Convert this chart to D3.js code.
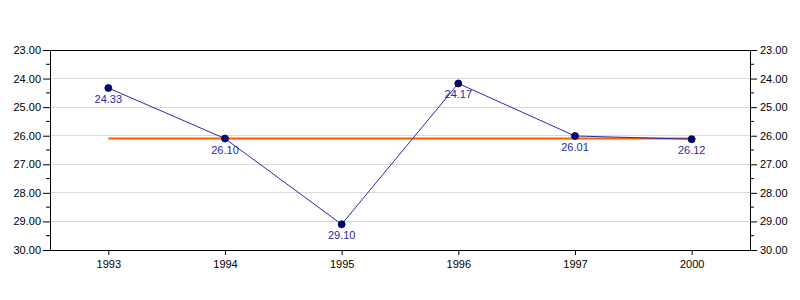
<!DOCTYPE html>
<html><head><meta charset="utf-8">
<script src="https://cdn.jsdelivr.net/npm/d3@7"></script>
<style>body{margin:0;background:#fff}svg{display:block}text{font-family:"Liberation Sans",Arial,sans-serif}</style>
</head><body>
<svg id="c" width="800" height="300"></svg>
<script>
const categories = ["1993","1994","1995","1996","1997","2000"];
const values = [24.33, 26.10, 29.10, 24.17, 26.01, 26.12];
const referenceValue = [26.10];
const yTicks = [23,24,25,26,27,28,29,30];
const yMinorTicks = [23.5,24.5,25.5,26.5,27.5,28.5,29.5];

const svg = d3.select("#c");
const L = 50, R = 750, T = 50, B = 250;
const x = d3.scalePoint().domain(categories).range([L, R]).padding(0.5);
const y = d3.scaleLinear().domain([23, 30]).range([T, B]);

// gridlines
svg.append("g").selectAll("line").data(yTicks.slice(1, -1)).join("line")
  .attr("x1", L).attr("x2", R).attr("y1", d => y(d)).attr("y2", d => y(d))
  .attr("stroke", "#d9d9d9").attr("stroke-width", 1).attr("shape-rendering", "crispEdges");

// frame top
svg.append("line").attr("x1", L).attr("x2", R).attr("y1", T).attr("y2", T)
  .attr("stroke", "#000").attr("shape-rendering", "crispEdges");

const fmt = d3.format(".2f");
// left axis
const gl = svg.append("g").attr("transform", `translate(${L},0)`)
  .call(d3.axisLeft(y).tickValues(yTicks).tickFormat(fmt).tickSize(7).tickPadding(2));
gl.append("g").selectAll("line").data(yMinorTicks).join("line")
  .attr("x1", -4).attr("x2", 0).attr("y1", d => y(d)).attr("y2", d => y(d)).attr("stroke", "#000");
// right axis
const gr = svg.append("g").attr("transform", `translate(${R},0)`)
  .call(d3.axisRight(y).tickValues(yTicks).tickFormat(fmt).tickSize(7).tickPadding(3));
gr.append("g").selectAll("line").data(yMinorTicks).join("line")
  .attr("x1", 0).attr("x2", 4).attr("y1", d => y(d)).attr("y2", d => y(d)).attr("stroke", "#000");
// bottom axis
const gb = svg.append("g").attr("transform", `translate(0,${B})`)
  .call(d3.axisBottom(x).tickSize(5).tickPadding(5));
gb.select(".domain").attr("d", `M${L},0.5H${R}`);

svg.selectAll(".domain").attr("stroke", "#000");
svg.selectAll(".tick text").attr("font-size", 11).attr("fill", "#000")
  .attr("font-family", "'Liberation Sans',Arial,sans-serif");

// reference line
svg.append("line")
  .attr("x1", x(categories[0])).attr("x2", x(categories[categories.length - 1]))
  .attr("y1", y(referenceValue[0])).attr("y2", y(referenceValue[0]))
  .attr("stroke", "#ff5a00").attr("stroke-width", 2);

// data line
const pts = categories.map((c, i) => [x(c), y(values[i])]);
svg.append("path").attr("d", d3.line()(pts))
  .attr("fill", "none").attr("stroke", "#2a2ab8").attr("stroke-width", 1);

svg.append("g").selectAll("circle").data(pts).join("circle")
  .attr("cx", d => d[0]).attr("cy", d => d[1]).attr("r", 3.5)
  .attr("fill", "#00007a").attr("stroke", "#000033").attr("stroke-width", 0.8);

svg.append("g").selectAll("text").data(values).join("text")
  .attr("x", (d, i) => x(categories[i])).attr("y", d => y(d) + 15)
  .attr("text-anchor", "middle").attr("font-size", 11).attr("fill", "#2a2aa8")
  .text(d => fmt(d));
</script>
</body></html>
